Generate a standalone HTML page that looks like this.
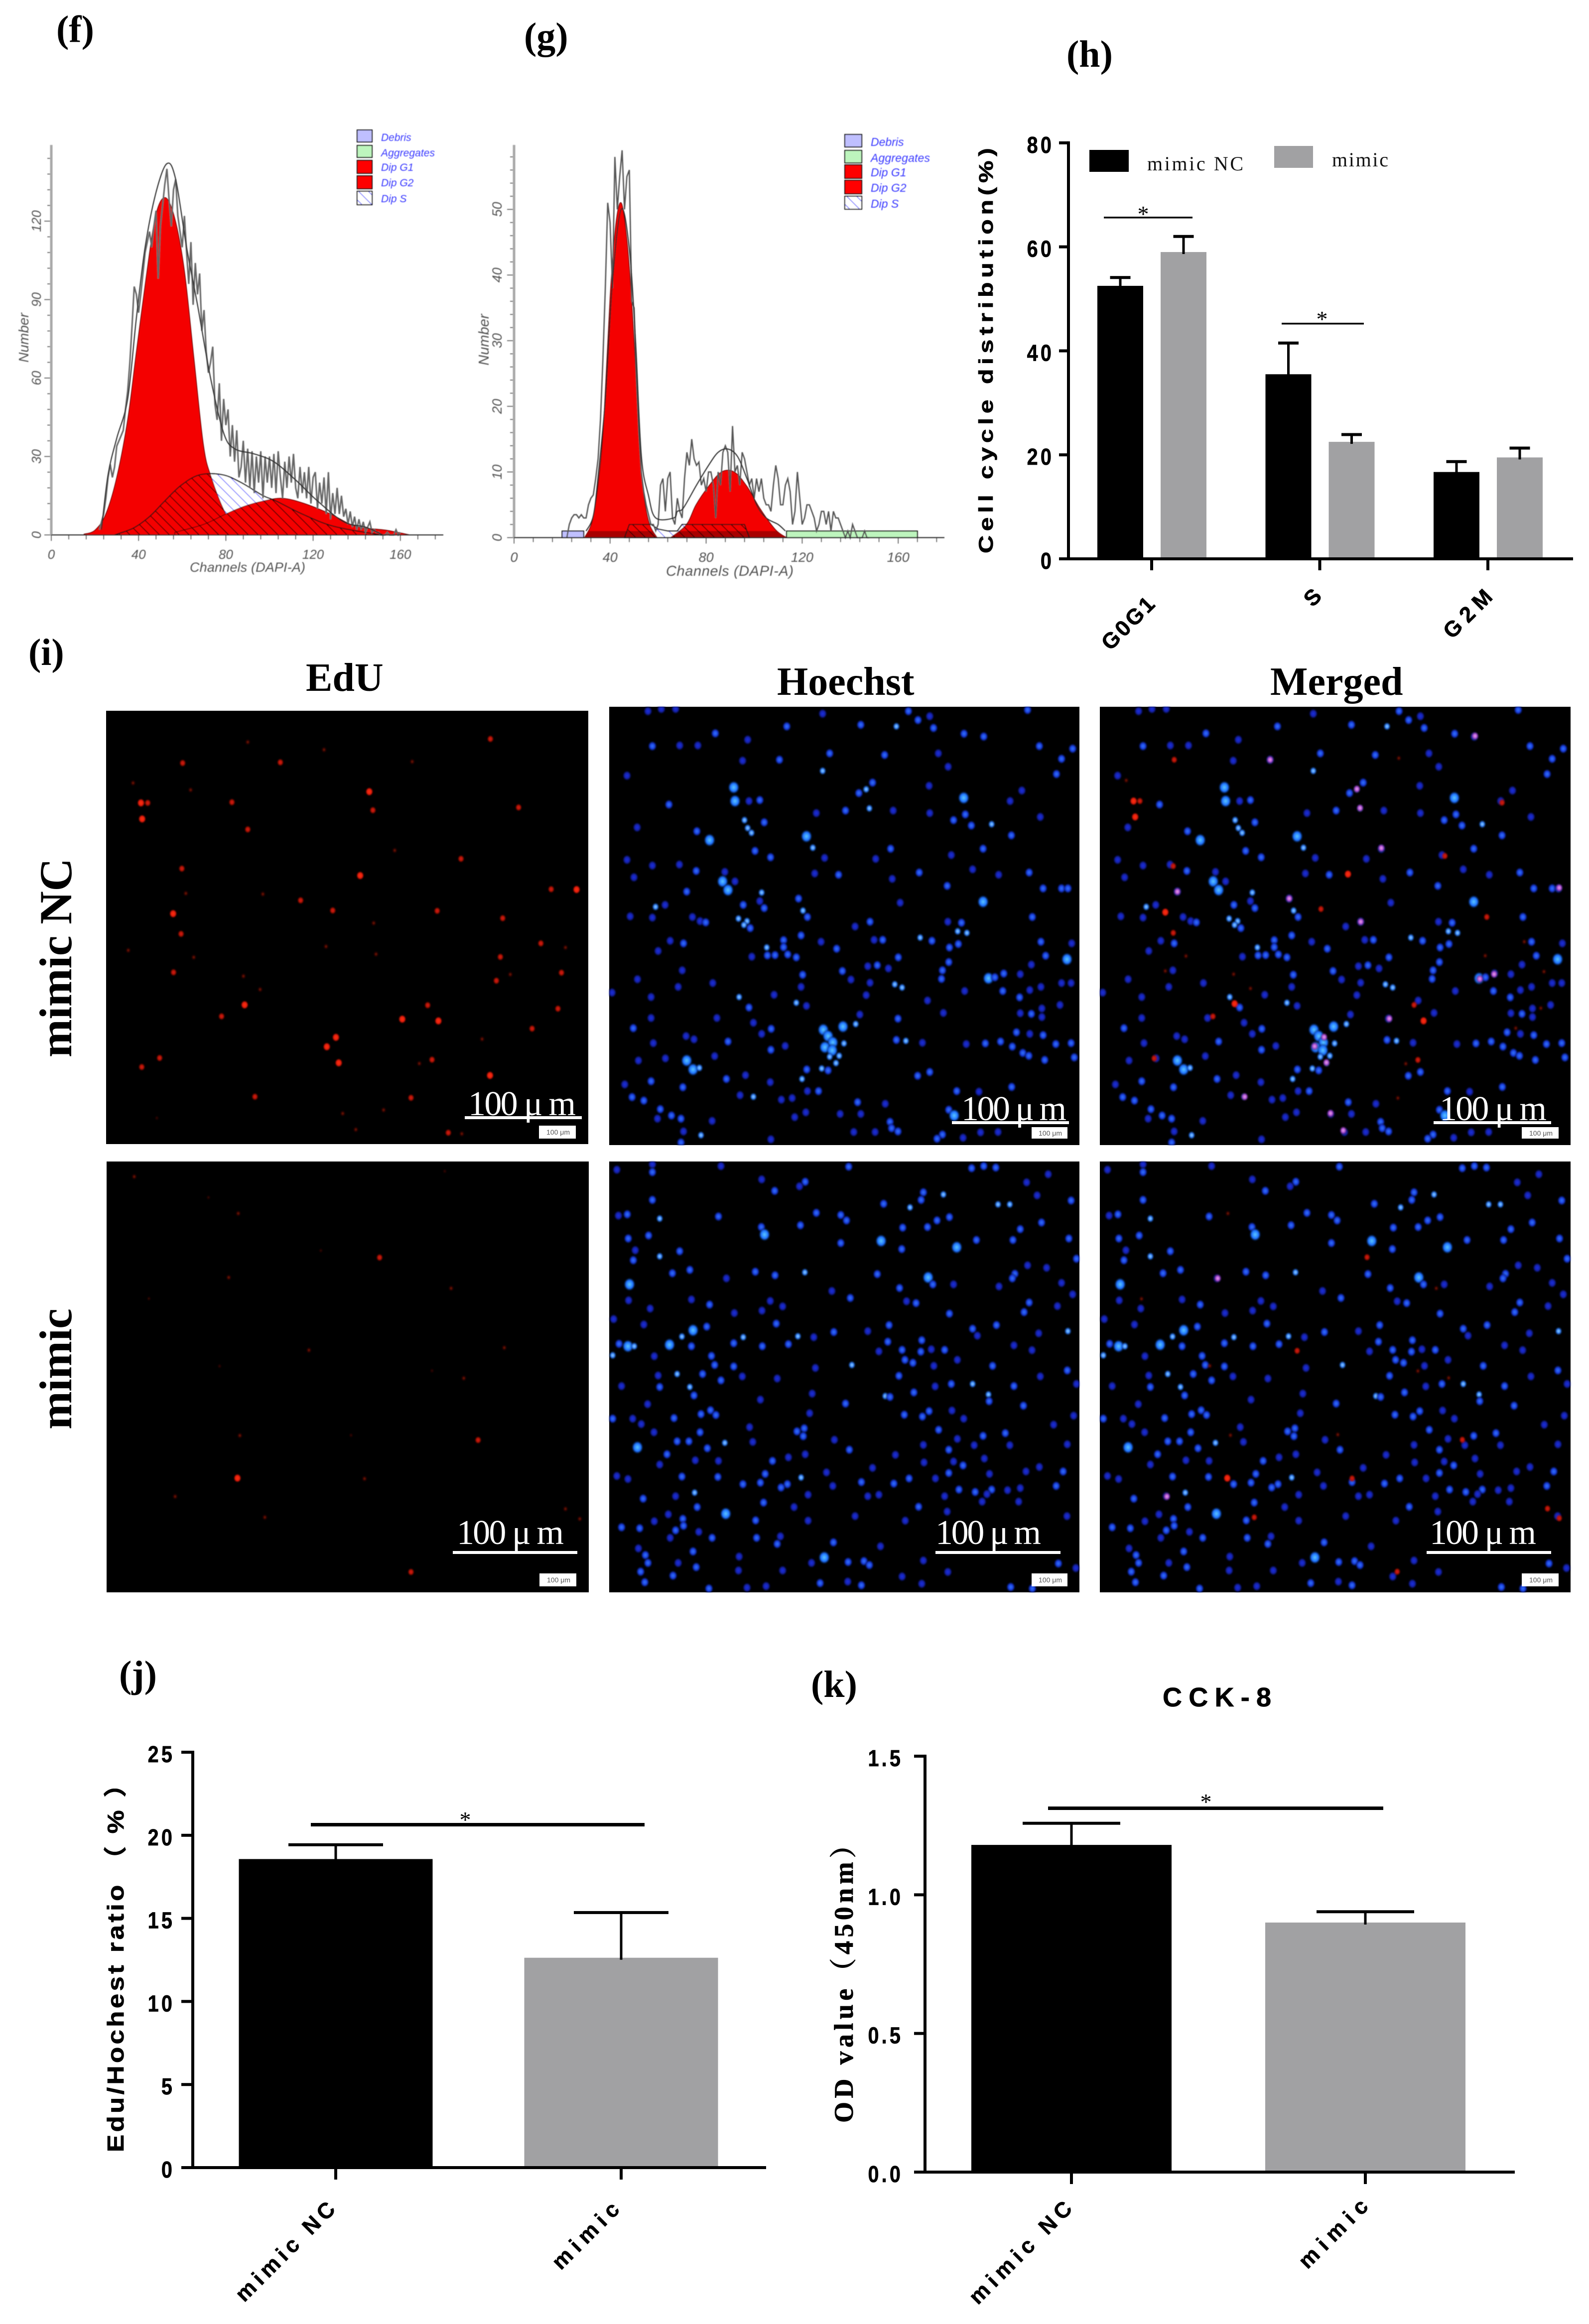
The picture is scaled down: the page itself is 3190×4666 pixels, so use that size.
<!DOCTYPE html>
<html lang="en">
<head>
<meta charset="utf-8">
<title>Flow cytometry, EdU and CCK-8 figure panels</title>
<style>
html,body{margin:0;padding:0;background:#fff}
svg{display:block}
.lab{font-family:"Liberation Serif",serif;font-weight:bold;font-size:76px;fill:#000}
.hdr{font-family:"Liberation Serif",serif;font-weight:bold;font-size:80px;fill:#000}
.row{font-family:"Liberation Serif",serif;font-weight:bold;font-size:92px;fill:#000}
.sb{font-family:"Liberation Serif","Noto Sans CJK SC",serif;font-size:70px;fill:#fff}
.sm{font-family:"Liberation Sans",sans-serif;font-size:14px;fill:#555}
.flow{font-family:"Liberation Sans",sans-serif;font-style:italic;fill:#555}
.leg{font-family:"Liberation Sans",sans-serif;font-style:italic;fill:#3a3aff}
.ttl{font-family:"Liberation Sans","Noto Sans CJK SC",sans-serif;font-weight:bold;fill:#000;stroke:#000;stroke-width:.7}
.ser{font-family:"Liberation Serif","Noto Serif CJK SC",serif;font-weight:bold;fill:#000;stroke:#000;stroke-width:.7}
.star{font-family:"Liberation Serif",serif;font-size:46px;fill:#000;text-anchor:middle}
.lgt{font-family:"Liberation Serif",serif;font-size:40px;fill:#111}
</style>
</head>
<body>
<svg id="fig" xmlns="http://www.w3.org/2000/svg" width="3190" height="4666" viewBox="0 0 3190 4666">
<defs>
  <filter id="soft" x="-5%" y="-5%" width="110%" height="110%"><feGaussianBlur stdDeviation="0.8"/></filter>
  <filter id="spotBlur" x="-2%" y="-2%" width="104%" height="104%"><feGaussianBlur stdDeviation="1.3"/></filter>
  <pattern id="hatchBlack" width="14" height="14" patternUnits="userSpaceOnUse" patternTransform="rotate(45)"><line x1="0" y1="0" x2="14" y2="0" stroke="#000" stroke-width="3"/></pattern>
  <pattern id="hatchBlue" width="14" height="14" patternUnits="userSpaceOnUse" patternTransform="rotate(45)"><rect width="14" height="14" fill="#fff"/><line x1="0" y1="0" x2="14" y2="0" stroke="#3a3aff" stroke-width="2.5"/></pattern>
  <radialGradient id="b0"><stop offset="0" stop-color="#1c30e0"/><stop offset=".55" stop-color="#1420a8"/><stop offset="1" stop-color="#000" stop-opacity="0"/></radialGradient>
  <radialGradient id="b1"><stop offset="0" stop-color="#3478ff"/><stop offset=".55" stop-color="#1636d8"/><stop offset="1" stop-color="#000" stop-opacity="0"/></radialGradient>
  <radialGradient id="b2"><stop offset="0" stop-color="#9adcff"/><stop offset=".5" stop-color="#2a7cff"/><stop offset="1" stop-color="#000" stop-opacity="0"/></radialGradient>
  <radialGradient id="b3"><stop offset="0" stop-color="#5ccaff"/><stop offset=".6" stop-color="#1a6cff"/><stop offset="1" stop-color="#000" stop-opacity="0"/></radialGradient>
  <radialGradient id="r0"><stop offset="0" stop-color="#4a0c06"/><stop offset="1" stop-color="#000" stop-opacity="0"/></radialGradient>
  <radialGradient id="r1"><stop offset="0" stop-color="#a01408"/><stop offset="1" stop-color="#000" stop-opacity="0"/></radialGradient>
  <radialGradient id="r2"><stop offset="0" stop-color="#e01a08"/><stop offset=".6" stop-color="#a01006"/><stop offset="1" stop-color="#000" stop-opacity="0"/></radialGradient>
  <radialGradient id="r3"><stop offset="0" stop-color="#ff3414"/><stop offset=".65" stop-color="#e01808"/><stop offset="1" stop-color="#000" stop-opacity="0"/></radialGradient>
  <radialGradient id="p0"><stop offset="0" stop-color="#f0b0e8"/><stop offset=".5" stop-color="#b048d8"/><stop offset="1" stop-color="#000" stop-opacity="0"/></radialGradient>
  <clipPath id="cE1"><rect x="213" y="1427" width="968" height="870"/></clipPath>
  <clipPath id="cH1"><rect x="1223" y="1419" width="944" height="880"/></clipPath>
  <clipPath id="cM1"><rect x="2208" y="1419" width="945" height="880"/></clipPath>
  <clipPath id="cE2"><rect x="214" y="2332" width="968" height="865"/></clipPath>
  <clipPath id="cH2"><rect x="1223" y="2332" width="944" height="865"/></clipPath>
  <clipPath id="cM2"><rect x="2208" y="2332" width="945" height="865"/></clipPath>
</defs>

<!-- panel letters -->
<text class="lab" x="113" y="84">(f)</text>
<text class="lab" x="1052" y="98">(g)</text>
<text class="lab" x="2141" y="134">(h)</text>
<text class="lab" x="57" y="1335">(i)</text>
<text class="lab" x="239" y="3387">(j)</text>
<text class="lab" x="1628" y="3407">(k)</text>

<!-- flow f -->
<g id="flowF" filter="url(#soft)">
  <text class="flow" font-size="28" transform="translate(57,678) rotate(-90)" text-anchor="middle">Number</text>
  <text class="flow" font-size="27" x="381" y="1148" textLength="232">Channels (DAPI-A)</text>
  <g>
    <rect x="717" y="261" width="30" height="24" fill="#bfbfff" stroke="#111" stroke-width="2"/>
    <rect x="717" y="292" width="30" height="24" fill="#bdf5bd" stroke="#111" stroke-width="2"/>
    <rect x="717" y="322" width="30" height="26" fill="#f00" stroke="#111" stroke-width="2"/>
    <rect x="717" y="353" width="30" height="26" fill="#f00" stroke="#111" stroke-width="2"/>
    <rect x="717" y="384" width="30" height="27" fill="url(#hatchBlue)" stroke="#111" stroke-width="2"/>
    <text class="leg" font-size="21" x="765" y="283">Debris</text>
    <text class="leg" font-size="21" x="765" y="314" textLength="108">Aggregates</text>
    <text class="leg" font-size="21" x="765" y="343">Dip G1</text>
    <text class="leg" font-size="21" x="765" y="374">Dip G2</text>
    <text class="leg" font-size="21" x="765" y="406">Dip S</text>
  </g>
</g>

<!-- flow g -->
<g id="flowG" filter="url(#soft)">
  <text class="flow" font-size="29" transform="translate(981,682) rotate(-90)" text-anchor="middle">Number</text>
  <text class="flow" font-size="29" x="1337" y="1156" textLength="256">Channels (DAPI-A)</text>
  <g>
    <rect x="1696" y="270" width="34" height="25" fill="#bfbfff" stroke="#111" stroke-width="2"/>
    <rect x="1696" y="302" width="34" height="25" fill="#bdf5bd" stroke="#111" stroke-width="2"/>
    <rect x="1696" y="331" width="34" height="27" fill="#f00" stroke="#111" stroke-width="2"/>
    <rect x="1696" y="362" width="34" height="27" fill="#f00" stroke="#111" stroke-width="2"/>
    <rect x="1696" y="394" width="34" height="26" fill="url(#hatchBlue)" stroke="#111" stroke-width="2"/>
    <text class="leg" font-size="23" x="1748" y="293">Debris</text>
    <text class="leg" font-size="23" x="1748" y="325" textLength="119">Aggregates</text>
    <text class="leg" font-size="23" x="1748" y="354">Dip G1</text>
    <text class="leg" font-size="23" x="1748" y="385">Dip G2</text>
    <text class="leg" font-size="23" x="1748" y="417">Dip S</text>
  </g>
</g>

<!-- bar h -->
<g id="chartH">
  <text class="ttl" font-size="40" transform="translate(1993,1111) rotate(-90) scale(1.25,1)" textLength="651">Cell cycle distribution(%)</text>
  <rect x="2187" y="301" width="79" height="44" fill="#000"/>
  <text class="lgt" x="2303" y="342" textLength="193">mimic NC</text>
  <rect x="2558" y="293" width="78" height="44" fill="#a1a1a3"/>
  <text class="lgt" x="2674" y="334" textLength="113">mimic</text>
  <rect x="2216" y="435" width="178" height="3.5" fill="#000"/>
  <text class="star" x="2295" y="445">*</text>
  <rect x="2573" y="648" width="165" height="3.5" fill="#000"/>
  <text class="star" x="2654" y="656">*</text>
</g>

<!-- panel i headers -->
<text class="hdr" x="614" y="1387">EdU</text>
<text class="hdr" x="1560" y="1395">Hoechst</text>
<text class="hdr" x="2550" y="1395">Merged</text>
<text class="row" transform="translate(143,2123) rotate(-90)" textLength="400">mimic NC</text>
<text class="row" transform="translate(143,2870) rotate(-90)" textLength="243">mimic</text>

<!-- micrographs -->
<rect x="213" y="1427" width="968" height="870" fill="#000"/>
<rect x="1223" y="1419" width="944" height="880" fill="#000"/>
<rect x="2208" y="1419" width="945" height="880" fill="#000"/>
<rect x="214" y="2332" width="968" height="865" fill="#000"/>
<rect x="1223" y="2332" width="944" height="865" fill="#000"/>
<rect x="2208" y="2332" width="945" height="865" fill="#000"/>
<g id="spots" filter="url(#spotBlur)"></g>

<!-- scale bars -->
<g>
  <text class="sb" x="940" y="2239" textLength="216">100 μ m</text>
  <rect x="933" y="2241" width="235" height="6" fill="#fff"/>
  <rect x="1082" y="2260" width="74" height="26" fill="#fff"/><text class="sm" x="1097" y="2278">100 μm</text>
</g>
<g>
  <text class="sb" x="1930" y="2249" textLength="211">100 μ m</text>
  <rect x="1911" y="2251" width="235" height="6" fill="#fff"/>
  <rect x="2071" y="2263" width="72" height="23" fill="#fff"/><text class="sm" x="2085" y="2280">100 μm</text>
</g>
<g>
  <text class="sb" x="2890" y="2249" textLength="215">100 μ m</text>
  <rect x="2878" y="2251" width="236" height="6" fill="#fff"/>
  <rect x="3055" y="2263" width="74" height="23" fill="#fff"/><text class="sm" x="3070" y="2280">100 μm</text>
</g>
<g>
  <text class="sb" x="917" y="3100" textLength="215">100 μ m</text>
  <rect x="909" y="3114" width="250" height="6" fill="#fff"/>
  <rect x="1083" y="3159" width="74" height="26" fill="#fff"/><text class="sm" x="1098" y="3177">100 μm</text>
</g>
<g>
  <text class="sb" x="1878" y="3100" textLength="212">100 μ m</text>
  <rect x="1878" y="3114" width="251" height="6" fill="#fff"/>
  <rect x="2071" y="3159" width="72" height="26" fill="#fff"/><text class="sm" x="2085" y="3177">100 μm</text>
</g>
<g>
  <text class="sb" x="2870" y="3100" textLength="214">100 μ m</text>
  <rect x="2864" y="3114" width="250" height="6" fill="#fff"/>
  <rect x="3055" y="3159" width="74" height="26" fill="#fff"/><text class="sm" x="3070" y="3177">100 μm</text>
</g>

<!-- bar j -->
<g id="chartJ">
  <text class="ttl" font-size="46" transform="translate(248,4321) rotate(-90) scale(1.15,1)" textLength="665">Edu/Hochest ratio （ % ）</text>
  <rect x="624" y="3660" width="670" height="7" fill="#000"/>
  <text class="star" x="934" y="3669">*</text>
</g>

<!-- bar k -->
<g id="chartK">
  <text class="ttl" font-size="54" x="2334" y="3426" textLength="218">CCK-8</text>
  <text class="ser" font-size="54" transform="translate(1712,4262) rotate(-90)" textLength="585">OD value（450nm）</text>
  <rect x="2104" y="3627" width="673" height="7" fill="#000"/>
  <text class="star" x="2421" y="3633">*</text>
</g>
</svg>

<script>
/* ---------- chart data ---------- */
const fYTicks = [0, 30, 60, 90, 120];
const fXTicks = [0, 40, 80, 120, 160];
const fG1Channels = [15, 20, 25, 30, 35, 39, 43.4, 47.8, 52.2, 56.6, 61, 65.3, 69.7, 73.3, 80, 87];
const fG1Counts = [0.3, 1.8, 8, 22, 44, 70, 98, 122, 129, 121, 101, 68, 34.5, 22, 8, 1];
const fG2Channels = [56.6, 69.7, 80, 88.6, 97.4, 106, 116, 128, 139.6, 153.5, 164.4];
const fG2Counts = [1, 4, 8, 11, 13, 14, 12, 8, 3.3, 1.8, 0];
const fSChannels = [29, 37.6, 45, 52, 59.5, 68, 78.4, 87, 97, 103, 115, 129.5, 151];
const fSCounts = [0, 2.6, 7, 13, 19, 23, 23, 20, 15, 13, 8, 3.3, 0];
const fFitChannels = [23, 26, 30, 35, 39, 43, 48, 53, 57, 62, 67, 73, 79, 84, 93, 102, 112, 122, 134, 144, 152];
const fFitCounts = [2, 23, 37, 52, 83, 110, 131, 142, 136, 110, 88, 60, 39, 33, 31, 28, 21, 13, 5, 3, 0];
const fHistStart = 22;
const fHistCounts = [2,5,8,14,22,27,22,26,34,36,38,40,48,55,66,80,95,92,85,92,100,108,112,116,110,118,124,98,118,126,134,140,128,118,132,136,122,116,110,122,108,96,112,88,104,92,100,78,86,70,62,66,72,50,44,58,36,52,42,48,30,42,28,40,22,26,36,20,33,18,32,16,30,20,32,14,30,20,30,18,31,16,32,22,14,28,18,30,20,31,18,14,26,16,24,14,26,12,22,24,10,20,12,22,8,24,6,16,8,18,8,15,7,10,4,9,3,7,2,6,2,5,1,3,5,1,2,1,1,0,0,0,1,0,0,0,2,0,1];

const gYTicks = [0, 10, 20, 30, 40, 50];
const gXTicks = [0, 40, 80, 120, 160];
const gG1Channels = [29.4, 32.7, 35.4, 37.4, 40, 42.3, 44.6, 46.9, 48.9, 51.3, 53.2, 55.9, 59.6];
const gG1Counts = [0, 2.7, 9.3, 18, 36.6, 47.5, 51, 45.7, 36.6, 21.5, 9.3, 2.7, 0];
const gG2Channels = [65.2, 71.8, 75.8, 81, 86.4, 91.7, 97, 102.3, 108.9, 113.5];
const gG2Counts = [0, 2, 5, 7.8, 10, 10, 7.8, 4.5, 1.2, 0];
const gSChannels = [46, 48, 57, 60, 64, 68, 70, 84, 96, 98];
const gSCounts = [0, 2, 2, 1.3, 1, 1, 2, 2, 2, 0];
const gDebrisRange = [20, 29];
const gAggregatesRange = [113.5, 168];
const gBandHeight = [1];
const gFitChannels = [30, 33, 35, 38, 41, 44.6, 48, 50.6, 53, 56, 59, 66.5, 68, 70.5, 76, 81, 85, 89, 93, 97, 101, 105, 110, 113];
const gFitCounts = [1, 3.3, 9.3, 21, 39, 50, 44, 30, 12.5, 6.4, 3, 3, 4, 4.5, 8, 11, 13, 13.5, 12.4, 9, 5, 3, 2, 1];
const gHistStart = 22;
const gHistCounts = [0,2,3,3.5,3.5,3,3.5,3,3,5,6,6.5,9,12,18,27,38,51,48,38,58,50,55,59,50,55,56,36,35,24,16,10,7,5,3.5,2,2,1,2,8,9,4,9,10,3,2,6,4,3,9,13,11,15,12,11,11.5,8,9,7,10,10,8,3,10,8,13,14,13,7,17,10,11,8,13,12,10,8,9,6,9,7,9,6,5,5,4,8,11,9,5,5,8,9,7,2,4,10,6,2,3,5,5,4,3,1,2,4,4,2,4,1,4,3,3,2,1,0,1,0,2,1,0,0,0,1,0,0];

const hCategories = ['G0G1', 'S', 'G2M'];
const hYTicks = [0, 20, 40, 60, 80];
const hMimicNC = [52.5, 35.5, 16.7];
const hMimic = [59, 22.5, 19.5];
const hMimicNCTop = [54.1, 41.5, 18.7];
const hMimicTop = [62, 23.9, 21.3];

const jCategories = ['mimic NC', 'mimic'];
const jYTicks = [0, 5, 10, 15, 20, 25];
const jValues = [18.57, 12.63];
const jTops = [19.43, 15.35];

const kCategories = ['mimic NC', 'mimic'];
const kYTicks = ['0.0', '0.5', '1.0', '1.5'];
const kValues = [1.18, 0.90];
const kTops = [1.258, 0.939];

/* ---------- helpers ---------- */
const NS = 'http://www.w3.org/2000/svg';
function add(parent, tag, attrs, text) {
  const el = document.createElementNS(NS, tag);
  for (const k in attrs) el.setAttribute(k, attrs[k]);
  if (text !== undefined) el.textContent = text;
  parent.appendChild(el);
  return el;
}
function smoothPath(pts) {
  let d = 'M' + pts[0][0].toFixed(1) + ',' + pts[0][1].toFixed(1);
  for (let i = 0; i < pts.length - 1; i++) {
    const p0 = pts[Math.max(i - 1, 0)], p1 = pts[i], p2 = pts[i + 1], p3 = pts[Math.min(i + 2, pts.length - 1)];
    const c1x = p1[0] + (p2[0] - p0[0]) / 6, c1y = p1[1] + (p2[1] - p0[1]) / 6;
    const c2x = p2[0] - (p3[0] - p1[0]) / 6, c2y = p2[1] - (p3[1] - p1[1]) / 6;
    d += 'C' + c1x.toFixed(1) + ',' + c1y.toFixed(1) + ' ' + c2x.toFixed(1) + ',' + c2y.toFixed(1) + ' ' + p2[0].toFixed(1) + ',' + p2[1].toFixed(1);
  }
  return d;
}
function areaPath(xs, ys, fx, fy) {
  const pts = xs.map((c, i) => [fx(c), fy(ys[i])]);
  return smoothPath(pts) + 'L' + fx(xs[xs.length - 1]).toFixed(1) + ',' + fy(0).toFixed(1) + 'L' + fx(xs[0]).toFixed(1) + ',' + fy(0).toFixed(1) + 'Z';
}
function linePath(xs, ys, fx, fy) {
  return smoothPath(xs.map((c, i) => [fx(c), fy(ys[i])]));
}
function histPoints(start, counts, fx, fy) {
  return counts.map((n, i) => fx(start + i).toFixed(1) + ',' + fy(n).toFixed(1)).join(' ');
}
function flowAxes(g, key, fx, fy, top, xEnd, yTicks, xTicks, yMinor, xMinor, yLabelX, xLabelY, fontSize) {
  const yMax = (fy(0) - top) / (fy(0) - fy(1));
  for (let v = 0; v <= yMax; v += yMinor) {
    const tick = add(g, 'line', {x1: fx(0) - (yTicks.includes(v) ? 14 : 8), x2: fx(0), y1: fy(v), y2: fy(v), stroke: '#555', 'stroke-width': 1.6});
    
    
  }
  const xMax = (xEnd - fx(0)) / (fx(1) - fx(0));
  for (let c = 0; c <= xMax; c += xMinor) {
    const tick = add(g, 'line', {x1: fx(c), x2: fx(c), y1: fy(0), y2: fy(0) + (xTicks.includes(c) ? 12 : 9), stroke: '#555', 'stroke-width': 1.6});
    
    
  }
  yTicks.forEach(v => {
    const t = add(g, 'text', {class: 'flow', 'font-size': fontSize, 'text-anchor': 'middle', transform: 'translate(' + yLabelX + ',' + fy(v) + ') rotate(-90)'}, String(v));
    
    
  });
  xTicks.forEach(c => {
    const t = add(g, 'text', {class: 'flow', 'font-size': fontSize, 'text-anchor': 'middle', x: fx(c), y: xLabelY}, String(c));
    
    
  });
  const yAxis = add(g, 'line', {x1: fx(0), x2: fx(0), y1: top, y2: fy(0), stroke: '#a8a8a8', 'stroke-width': 5});
  
  
  const xAxis = add(g, 'line', {x1: fx(0), x2: xEnd, y1: fy(0), y2: fy(0), stroke: '#222', 'stroke-width': 2});
  
  
}

/* ---------- flow panel f ---------- */
(function () {
  const fx = c => 103 + c * 4.38;
  const fy = n => 1074 - n * 5.25;
  const g = document.getElementById('flowF');
  const d1 = areaPath(fG1Channels, fG1Counts, fx, fy);
  const d2 = areaPath(fG2Channels, fG2Counts, fx, fy);
  const dS = areaPath(fSChannels, fSCounts, fx, fy);
  const clip = add(document.querySelector('defs'), 'clipPath', {id: 'cSF'});
  add(clip, 'path', {d: dS});
  const s = add(g, 'path', {d: dS, fill: 'url(#hatchBlue)', stroke: '#111', 'stroke-width': 2});
  
  
  const a1 = add(g, 'path', {d: d1, fill: '#f40000', stroke: '#6d0000', 'stroke-width': 1.5});
  
  
  const a2 = add(g, 'path', {d: d2, fill: '#f40000', stroke: '#6d0000', 'stroke-width': 1.5});
  
  
  const hg = add(g, 'g', {'clip-path': 'url(#cSF)'});
  
  
  add(hg, 'path', {d: d1, fill: 'url(#hatchBlack)'});
  add(hg, 'path', {d: d2, fill: 'url(#hatchBlack)'});
  const sl = add(g, 'path', {d: linePath(fSChannels, fSCounts, fx, fy), fill: 'none', stroke: '#111', 'stroke-width': 2});
  
  
  const hist = add(g, 'polyline', {points: histPoints(fHistStart, fHistCounts, fx, fy), fill: 'none', stroke: '#666', 'stroke-width': 3});
  
  
  const fit = add(g, 'path', {d: linePath(fFitChannels, fFitCounts, fx, fy), fill: 'none', stroke: '#222', 'stroke-width': 2});
  
  
  flowAxes(g, 'flow-f', fx, fy, 291, 890, fYTicks, fXTicks, 6, 8, 82, 1122, 26);
})();

/* ---------- flow panel g ---------- */
(function () {
  const fx = c => 1032 + c * 4.82;
  const fy = n => 1079.4 - n * 13.18;
  const g = document.getElementById('flowG');
  const b = gBandHeight[0];
  const band = (range, fill, name) => {
    const r = add(g, 'rect', {x: fx(range[0]), y: fy(b), width: fx(range[1]) - fx(range[0]), height: fy(0) - fy(b), fill: fill, stroke: '#111', 'stroke-width': 2});
    
    
  };
  band(gDebrisRange, '#bfbfff', 'debris-band');
  band(gAggregatesRange, '#bdf5bd', 'aggregates-band');
  const d1 = areaPath(gG1Channels, gG1Counts, fx, fy);
  const d2 = areaPath(gG2Channels, gG2Counts, fx, fy);
  const sPts = gSChannels.map((c, i) => fx(c).toFixed(1) + ',' + fy(gSCounts[i]).toFixed(1)).join(' ');
  const defs = document.querySelector('defs');
  const clip = add(defs, 'clipPath', {id: 'cSG'});
  add(clip, 'polygon', {points: sPts});
  const clipB = add(defs, 'clipPath', {id: 'cBG'});
  add(clipB, 'rect', {x: fx(0), y: fy(b), width: 900, height: fy(0) - fy(b)});
  const s = add(g, 'polygon', {points: sPts, fill: 'url(#hatchBlue)', stroke: '#111', 'stroke-width': 2});
  
  
  const a1 = add(g, 'path', {d: d1, fill: '#f40000', stroke: '#6d0000', 'stroke-width': 1.5});
  
  
  const a2 = add(g, 'path', {d: d2, fill: '#f40000', stroke: '#6d0000', 'stroke-width': 1.5});
  
  
  const base = add(g, 'g', {'clip-path': 'url(#cBG)'});
  
  
  add(base, 'path', {d: d1, fill: '#a80000'});
  add(base, 'path', {d: d2, fill: '#a80000'});
  const hg = add(g, 'g', {'clip-path': 'url(#cSG)'});
  
  
  add(hg, 'path', {d: d1, fill: 'url(#hatchBlack)'});
  add(hg, 'path', {d: d2, fill: 'url(#hatchBlack)'});
  const outline = add(g, 'polygon', {points: sPts, fill: 'none', stroke: '#111', 'stroke-width': 2});
  
  
  const hist = add(g, 'polyline', {points: histPoints(gHistStart, gHistCounts, fx, fy), fill: 'none', stroke: '#555', 'stroke-width': 2.6});
  
  
  const fit = add(g, 'path', {d: linePath(gFitChannels, gFitCounts, fx, fy), fill: 'none', stroke: '#222', 'stroke-width': 2});
  
  
  flowAxes(g, 'flow-g', fx, fy, 291, 1896, gYTicks, gXTicks, 2, 8, 1007, 1128, 27);
})();

/* ---------- bar chart drawing ---------- */
function prismAxes(g, key, cfg) {
  const yAxis = add(g, 'rect', {x: cfg.x0 - 3, y: cfg.y(cfg.top) - 3, width: 6, height: cfg.y(0) - cfg.y(cfg.top) + 6, fill: '#000'});
  
  
  const xAxis = add(g, 'rect', {x: cfg.tickLeft, y: cfg.y(0) - 3, width: cfg.xEnd - cfg.tickLeft, height: 6, fill: '#000'});
  
  
  cfg.ticks.forEach(v => {
    const val = parseFloat(v);
    const tick = add(g, 'rect', {x: cfg.tickLeft, y: cfg.y(val) - 3, width: cfg.x0 - cfg.tickLeft, height: 6, fill: '#000'});
    
    
    const t = add(g, 'text', {class: 'ttl', 'font-size': 46, 'text-anchor': 'end', 'letter-spacing': 6, transform: 'translate(' + cfg.labelRight + ',' + (cfg.y(val) + 20) + ') scale(.86,1)'}, String(v));
    
    
  });
}
function xCategory(g, key, label, tx, tickBottom, axisY, cx, cy, len, size) {
  const tick = add(g, 'rect', {x: tx - 3, y: axisY, width: 6, height: tickBottom - axisY, fill: '#000'});
  
  
  const attrs = {class: 'ttl', 'font-size': size, 'text-anchor': 'middle', transform: 'translate(' + cx + ',' + cy + ') rotate(-45)'};
  if (len) attrs.textLength = len;
  const t = add(g, 'text', attrs, label);
  
  
}
function bar(g, name, cx, w, value, topValue, y, fill, capW) {
  const r = add(g, 'rect', {x: cx - w / 2, y: y(value), width: w, height: y(0) - y(value), fill: fill});
  
  
  const stem = add(g, 'rect', {x: cx - 2.5, y: y(topValue), width: 5, height: y(value) - y(topValue) + 4, fill: '#000'});
  
  
  const cap = add(g, 'rect', {x: cx - capW / 2, y: y(topValue) - 3, width: capW, height: 6, fill: '#000'});
  
  
}

/* panel h */
(function () {
  const g = document.getElementById('chartH');
  const y = v => 1122 - v * 10.44;
  const x = i => 2312 + i * 337.5;
  hCategories.forEach((c, i) => {
    bar(g, 'bar-mimic-nc-' + c, x(i) - 63, 92, hMimicNC[i], hMimicNCTop[i], y, '#000', 41);
    bar(g, 'bar-mimic-' + c, x(i) + 64, 92, hMimic[i], hMimicTop[i], y, '#a1a1a3', 41);
  });
  prismAxes(g, 'h', {x0: 2145, tickLeft: 2126, xEnd: 3158, y: y, top: 80, ticks: hYTicks, labelRight: 2116});
  const labelCx = [-37, -4, -30];
  const labelCy = [140, 88, 121];
  const labelLen = [130, 0, 118];
  hCategories.forEach((c, i) => {
    xCategory(g, 'h', c, x(i), 1145, 1122, x(i) + labelCx[i], 1122 + labelCy[i], labelLen[i], 44);
  });
})();

/* panel j */
(function () {
  const g = document.getElementById('chartJ');
  const y = v => 4352 - v * 33.36;
  const x = i => 674 + i * 573;
  jCategories.forEach((c, i) => {
    bar(g, 'bar-' + c.replace(' ', '-').toLowerCase(), x(i), 389, jValues[i], jTops[i], y, i ? '#a1a1a3' : '#000', 190);
  });
  prismAxes(g, 'j', {x0: 387, tickLeft: 364, xEnd: 1538, y: y, top: 25, ticks: jYTicks, labelRight: 351});
  const labelCx = [-91, -61];
  const labelCy = [179, 147];
  const labelLen = [262, 170];
  jCategories.forEach((c, i) => {
    xCategory(g, 'j', c, x(i), 4376, 4352, x(i) + labelCx[i], 4352 + labelCy[i], labelLen[i], 44);
  });
})();

/* panel k */
(function () {
  const g = document.getElementById('chartK');
  const y = v => 4361 - v * 556.7;
  const x = i => 2151 + i * 590;
  kCategories.forEach((c, i) => {
    bar(g, 'bar-' + c.replace(' ', '-').toLowerCase(), x(i), 402, kValues[i], kTops[i], y, i ? '#a1a1a3' : '#000', 196);
  });
  prismAxes(g, 'k', {x0: 1857, tickLeft: 1835, xEnd: 3041, y: y, top: 1.5, ticks: kYTicks, labelRight: 1813});
  const labelCx = [-92, -54];
  const labelCy = [172, 134];
  const labelLen = [271, 176];
  kCategories.forEach((c, i) => {
    xCategory(g, 'k', c, x(i), 4385, 4361, x(i) + labelCx[i], 4361 + labelCy[i], labelLen[i], 44);
  });
})();

/* ---------- micrograph nuclei (locations measured across each image) ---------- */
const hoechstNC = "200,115,0;245,115,0;158,122,0;708,130,0;978,122,1;1008,150,1;1045,138,0;1057,175,1;1353,118,1;595,170,1;828,165,1;940,170,2;370,192,1;1153,193,1;1215,202,1;172,232,1;258,230,0;315,230,0;472,212,0;1390,232,1;1495,240,1;456,278,0;572,275,1;730,255,1;903,260,1;1072,255,0;1460,272,1;1103,297,0;708,310,2;1444,320,1;92,325,0;428,362,3;432,405,3;476,405,0;510,402,1;865,347,1;845,368,2;822,380,1;1043,357,0;1152,395,3;1335,372,0;1298,405,0;224,416,1;780,435,1;855,428,2;688,443,0;930,435,0;1045,443,0;1157,447,1;1393,455,0;462,465,2;472,490,2;484,505,2;524,472,1;1120,465,1;1176,482,1;1240,478,2;124,488,0;312,500,1;352,528,3;1302,513,1;657,516,3;677,552,2;922,555,1;1213,555,1;495,562,1;544,582,1;714,584,0;875,587,0;1113,575,0;92,590,0;172,608,0;257,605,0;310,625,1;400,628,0;758,637,1;683,633,0;1012,630,1;1180,620,0;1262,637,0;1358,630,1;114,645,0;927,650,0;432,658,0;393,658,3;410,685,3;280,690,1;516,693,2;1100,672,1;1402,680,1;1460,680,1;1480,680,1;510,720,0;632,712,1;1213,722,3;212,732,0;458,732,1;952,725,0;182,738,2;524,742,1;646,750,2;660,770,1;102,768,0;172,772,0;298,770,0;322,783,0;340,787,1;1368,770,1;443,775,2;470,783,2;460,795,2;480,805,1;810,800,0;857,785,1;1102,785,0;1145,788,1;1133,815,2;1162,820,2;228,845,0;270,853,1;585,843,1;640,828,1;703,848,0;870,842,0;897,842,1;1015,835,2;1052,845,1;1395,848,1;1492,853,0;585,865,1;532,866,2;1135,855,1;1107,866,1;752,870,1;190,877,0;485,895,0;534,891,1;558,890,1;598,888,1;625,897,1;946,897,1;1410,892,1;1477,903,3;880,922,1;1105,912,1;850,925,0;915,932,0;1365,920,0;1085,938,1;770,940,1;1330,950,0;266,938,0;645,952,1;1278,948,1;1230,963,3;1250,960,1;125,966,0;1082,965,1;797,967,0;362,978,0;857,977,0;935,982,2;958,992,2;253,990,0;640,990,0;1490,978,0;1460,978,0;1395,990,0;1360,1000,0;45,1008,0;1275,1003,1;555,1015,0;1155,1003,0;845,1016,0;168,1022,0;445,1022,2;1328,1023,1;1038,1033,0;625,1040,2;476,1055,1;657,1050,0;1398,1058,0;1455,1047,0;1330,1073,0;1365,1075,1;1088,1072,0;825,1077,0;375,1088,0;168,1088,0;945,1090,1;1398,1085,0;490,1103,0;812,1107,2;710,1125,3;725,1145,3;772,1115,3;112,1120,1;546,1122,1;516,1138,0;278,1145,0;1318,1133,1;1360,1138,0;1402,1142,1;303,1155,0;940,1157,1;970,1160,2;410,1162,1;175,1167,0;1022,1166,0;1160,1170,0;1220,1168,1;1268,1162,1;1305,1178,1;1442,1170,1;1490,1167,1;740,1165,3;715,1180,3;775,1168,2;590,1176,0;545,1188,1;738,1190,3;760,1207,2;730,1210,2;1338,1198,1;1357,1207,1;128,1222,0;213,1215,0;368,1208,0;280,1222,3;1500,1212,1;1407,1220,1;300,1250,3;320,1245,2;750,1230,2;705,1247,2;725,1253,1;658,1250,1;1045,1258,1;1007,1270,1;168,1287,1;405,1280,1;643,1280,2;465,1268,0;543,1290,0;85,1297,0;268,1306,1;1303,1305,1;660,1318,0;695,1318,1;1130,1318,1;1200,1320,0;448,1331,0;490,1336,2;108,1337,1;145,1348,1;578,1345,0;612,1340,0;818,1353,1;905,1358,0;197,1375,1;232,1395,1;262,1405,1;188,1405,0;655,1385,0;763,1390,0;828,1390,0;1105,1377,1;1122,1395,3;620,1400,0;360,1412,0;920,1415,1;925,1435,1;945,1445,1;270,1445,0;325,1457,2;806,1447,0;873,1447,0;1085,1455,1;1068,1468,1;1260,1447,0;1205,1448,0;1150,1465,0;545,1470,0;262,1480,1";
const hoechstMimic = "60,80,0;172,62,0;172,88,1;388,68,0;790,70,1;1177,75,1;1215,68,1;1253,73,1;1418,95,0;516,112,0;653,120,1;635,135,0;557,150,1;1350,122,0;172,180,1;1025,155,1;1088,162,2;1383,165,0;1490,182,1;1018,180,1;900,193,1;1260,195,2;1297,195,2;983,205,2;65,232,0;93,228,1;195,242,2;380,235,1;688,223,1;765,230,1;783,248,1;1107,237,1;1068,248,1;1397,255,1;638,264,1;1038,270,1;960,272,1;515,270,1;525,295,3;160,298,1;1330,277,1;96,308,1;1192,313,1;892,316,3;1307,313,1;765,323,1;1483,308,1;118,347,0;258,350,1;957,343,1;1130,337,3;112,380,1;195,367,2;1507,375,1;235,423,1;290,412,1;496,418,1;652,420,2;558,430,1;880,426,1;1353,397,0;1413,405,0;1313,425,1;1305,440,1;405,440,0;1040,437,3;1055,460,1;100,460,3;1120,460,0;1263,467,0;950,472,1;1460,455,0;737,482,0;97,513,0;295,510,0;795,505,1;1495,493,0;352,527,1;543,515,0;972,516,0;1002,522,1;1358,520,1;582,533,0;165,540,0;517,547,0;430,555,0;1107,557,1;1447,532,0;1342,552,1;50,575,0;145,593,0;562,590,1;1255,595,1;917,595,1;343,600,1;300,612,3;265,633,2;743,618,1;850,615,0;1180,607,1;1195,630,0;1388,622,0;1480,615,2;630,632,2;680,635,0;458,635,2;428,655,1;600,658,1;67,657,1;95,665,3;115,665,2;226,660,3;295,665,1;518,665,1;913,650,1;1020,645,1;1310,662,0;885,682,0;958,677,1;1017,683,1;1050,675,0;1092,677,1;1367,678,0;47,695,2;178,698,0;358,697,1;967,710,1;992,720,1;1132,710,0;368,727,1;428,732,1;800,727,2;685,737,0;1058,730,0;1243,730,1;1478,745,1;250,757,2;330,757,1;190,762,0;455,765,0;948,763,1;565,772,0;388,778,1;1393,765,0;75,797,0;195,800,1;1062,798,0;1113,790,1;1180,790,2;1310,797,1;1507,790,0;290,800,2;303,828,1;675,822,0;905,830,2;920,833,1;995,818,1;1230,825,2;1232,847,1;512,842,0;157,857,0;780,855,1;1340,862,1;355,877,1;325,890,1;372,893,1;667,887,0;965,892,1;1043,880,1;1115,878,0;1022,898,1;240,903,1;47,905,1;1152,905,0;1498,895,0;110,905,0;137,923,0;478,933,0;1435,925,0;650,937,1;627,947,1;1073,942,1;177,950,0;322,950,1;647,963,1;1283,953,1;1213,962,1;1132,972,0;745,975,0;250,980,1;287,980,1;400,985,2;488,982,0;125,1000,3;1025,992,0;1185,993,0;1297,993,0;1478,990,0;345,1003,1;792,1008,1;1105,1008,1;218,1023,1;653,1023,0;600,1033,0;937,1025,0;1217,1037,0;307,1043,0;380,1045,0;550,1045,1;1027,1050,0;1120,1047,0;195,1057,0;1150,1060,1;1390,1065,0;865,1068,0;720,1083,0;1348,1080,0;1465,1080,1;60,1095,0;95,1105,0;265,1097,1;378,1098,1;527,1088,1;1105,1085,1;1233,1088,0;640,1100,2;980,1103,1;1063,1103,0;512,1117,1;830,1115,1;457,1122,1;597,1122,1;932,1120,1;577,1133,1;740,1128,0;1443,1128,1;1330,1135,0;1137,1140,1;1240,1140,1;1188,1148,1;1290,1142,0;850,1162,0;885,1157,0;305,1150,2;662,1157,0;1225,1155,0;1092,1162,0;245,1162,0;143,1170,1;1210,1180,0;1325,1180,0;522,1183,1;618,1198,0;313,1198,1;1010,1197,1;1100,1213,0;403,1220,3;222,1222,0;810,1228,0;1477,1228,0;268,1237,1;178,1245,0;497,1242,1;968,1243,0;662,1243,0;75,1265,1;132,1268,1;270,1260,1;245,1275,1;318,1280,0;228,1300,0;360,1300,1;500,1300,1;575,1295,0;565,1320,1;742,1315,1;890,1328,0;128,1335,0;300,1345,1;150,1357,1;158,1383,1;713,1365,3;445,1362,0;673,1383,0;253,1383,0;788,1380,1;838,1377,1;855,1390,1;1025,1375,0;1450,1385,1;310,1397,1;443,1408,0;582,1408,0;135,1412,1;237,1425,1;958,1428,0;1102,1413,0;148,1447,1;787,1445,0;700,1450,1;1020,1452,0;530,1460,0;830,1457,1;350,1468,1;470,1465,0;1300,1463,1;1368,1468,1;1505,1400,0";
const eduNC = "624,342,1;1235,333,2;816,364,1;460,402,2;706,400,2;1038,398,1;335,459,1;480,479,1;930,484,3;355,516,3;372,516,2;584,514,2;1306,529,2;939,537,2;358,562,3;624,592,2;994,652,1;1161,676,2;458,704,2;907,724,3;1452,764,3;1388,763,2;468,775,1;757,795,2;662,777,1;838,824,2;1101,825,2;436,833,3;1266,846,2;941,860,1;456,891,2;1362,918,2;821,927,1;323,938,1;947,949,1;488,958,1;1260,957,2;1424,930,1;437,1001,2;1285,1007,1;1414,1002,2;613,1012,1;1250,1025,2;655,1050,1;1077,1095,2;616,1094,3;1405,1105,2;558,1127,2;1013,1135,3;1104,1140,3;1340,1162,2;846,1187,3;1214,1192,1;823,1214,3;402,1246,2;853,1260,3;1088,1251,2;1056,1262,1;357,1272,2;1234,1296,3;642,1357,2;1035,1360,2;966,1395,1;863,1405,1;395,1418,0;896,1451,1;1129,1460,2;1163,1463,1";
const eduMimic = "338,103,1;525,172,0;600,225,1;1120,85,0;808,348,0;956,371,2;576,437,1;1136,473,1;375,507,0;778,678,1;1270,670,1;553,731,0;1088,746,0;1168,771,1;604,961,1;884,960,0;1204,976,2;598,1102,3;918,1104,1;441,1163,1;667,1232,1;1424,1204,1;1460,1237,1;1035,1413,2";
const mergedRedNC = "278,275,2;127,340,1;150,405,3;170,405,2;155,455,3;985,270,1;1310,410,2;1130,578,2;825,635,3;275,610,2;740,745,2;250,755,3;275,820,2;1262,770,2;315,893,1;250,940,1;465,950,1;518,995,1;468,1043,3;400,1083,2;1033,1047,2;1063,1097,3;1380,848,1;1257,892,1;1442,942,1;1432,1057,1;1353,1120,1;215,1215,2;1045,1220,2;1007,1232,1;982,1340,1";
const mergedPinkNC = "1225,200;580,275;853,367;863,427;930,553;640,712;865,785;288,690;1490,678;1240,965;1285,950;955,1090;750,1148;720,1177;757,1228;500,1336;770,1388;810,1442";
const mergedRedMimic = "447,225,1;885,370,2;1103,473,1;175,508,1;665,680,2;390,730,1;1045,747,1;1142,770,1;455,960,1;793,958,1;1185,975,2;445,1102,3;838,1103,2;1453,1203,2;1490,1235,2;530,1232,2;980,1412,2";
const mergedPinkMimic = "415,440;255,1163";

function parseSpots(s) { return s.split(';').map(p => p.split(',').map(Number)); }
function paint(root, clipId, name, spots, ox, oy, sx, sy, kind, radii) {
  const g = add(root, 'g', {'clip-path': 'url(#' + clipId + ')'});
  
  
  spots.forEach(p => {
    const level = p.length > 2 ? p[2] : 0;
    const el = add(g, 'ellipse', {cx: (ox + p[0] * sx).toFixed(1), cy: (oy + p[1] * sy).toFixed(1), rx: radii[level] * 0.88, ry: radii[level], fill: 'url(#' + kind + level + ')'});
    
    
  });
}
(function () {
  const root = document.getElementById('spots');
  const s5 = 1 / 1.568, s7x = 1 / 1.2544, s4y = 1 / 1.4255, s7y = 1 / 1.6505;
  const rBlue = [11, 11, 9, 14], rRed = [6, 7, 8, 9], rPink = [9];
  paint(root, 'cE1', 'edu-mimic-nc-nuclei', parseSpots(eduNC), 0, 1250, s7x, s4y, 'r', rRed);
  paint(root, 'cH1', 'hoechst-mimic-nc-nuclei', parseSpots(hoechstNC), 1200, 1350, s5, s5, 'b', rBlue);
  paint(root, 'cM1', 'merged-mimic-nc-nuclei', parseSpots(hoechstNC), 2185, 1350, s5, s5, 'b', rBlue);
  paint(root, 'cM1', 'merged-mimic-nc-red-nuclei', parseSpots(mergedRedNC), 2180, 1350, s5, s5, 'r', rRed);
  paint(root, 'cM1', 'merged-mimic-nc-colocalised', parseSpots(mergedPinkNC), 2180, 1350, s5, s5, 'p', rPink);
  paint(root, 'cE2', 'edu-mimic-nuclei', parseSpots(eduMimic), 0, 2300, s7x, s7y, 'r', rRed);
  paint(root, 'cH2', 'hoechst-mimic-nuclei', parseSpots(hoechstMimic), 1200, 2300, s5, s7y, 'b', rBlue);
  paint(root, 'cM2', 'merged-mimic-nuclei', parseSpots(hoechstMimic), 2185, 2300, s5, s7y, 'b', rBlue);
  paint(root, 'cM2', 'merged-mimic-red-nuclei', parseSpots(mergedRedMimic), 2180, 2300, s5, s7y, 'r', rRed);
  paint(root, 'cM2', 'merged-mimic-colocalised', parseSpots(mergedPinkMimic), 2180, 2300, s5, s7y, 'p', rPink);
})();
</script>
</body>
</html>
